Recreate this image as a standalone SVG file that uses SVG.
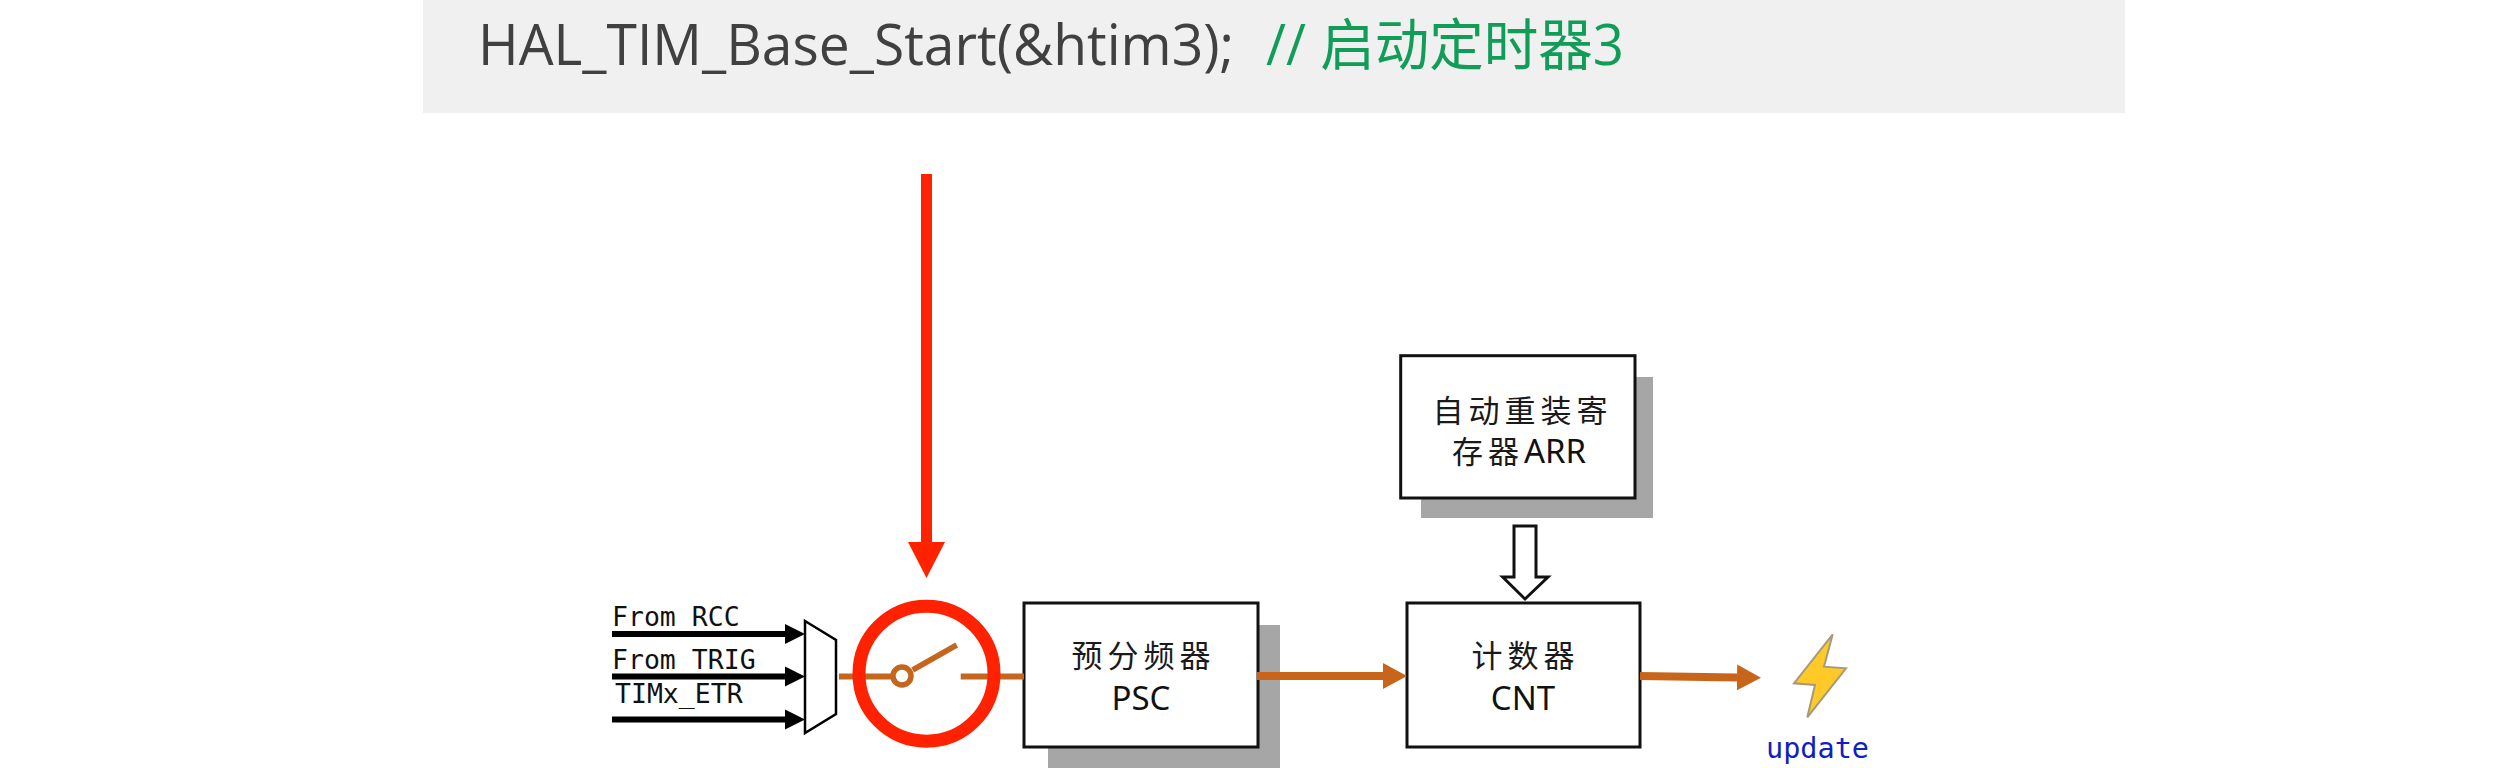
<svg xmlns="http://www.w3.org/2000/svg" width="2513" height="768" viewBox="0 0 2513 768">
<style>
.box{fill:#fff;stroke:#111;stroke-width:3}
.shadow{fill:#a6a6a6}
.cjk{font-family:"Noto Sans CJK SC","Noto Sans",sans-serif;font-size:31px;fill:#1a1a1a;text-anchor:middle;letter-spacing:5px}
.lat{font-family:"Noto Sans","Noto Sans CJK SC",sans-serif;font-size:33px;fill:#111;text-anchor:middle}
.mono{font-family:"DejaVu Sans Mono",monospace;font-size:26.5px;fill:#111}
.blk{fill:none;stroke:#000;stroke-width:6;marker-end:url(#hb)}
.org{fill:none;stroke:#c8651b;stroke-width:8;marker-end:url(#ho)}
.wire{fill:none;stroke:#c5661f;stroke-width:6}
</style>
<defs>
<marker id="hb" markerUnits="userSpaceOnUse" markerWidth="21" markerHeight="22" refX="0" refY="11" orient="auto"><path d="M0 1L20 11L0 21Z" fill="#000"/></marker>
<marker id="ho" markerUnits="userSpaceOnUse" markerWidth="25" markerHeight="28" refX="0" refY="14" orient="auto"><path d="M0 1L24 14L0 27Z" fill="#c8651b"/></marker>
</defs>
<rect x="423" y="0" width="1702" height="113" fill="#f0f0f0"/>
<g id="title">
<text x="478" y="64.500" font-family="'Open Sans','Noto Sans CJK SC',sans-serif" font-size="56" fill="#404040" textLength="756" lengthAdjust="spacingAndGlyphs">HAL_TIM_Base_Start(&amp;htim3);</text>
<text x="1266" y="64.500" font-family="'Open Sans','Noto Sans CJK SC',sans-serif" font-size="56" fill="#0f9d58" textLength="358" lengthAdjust="spacingAndGlyphs">// 启动定时器3</text>
</g>
<g id="psc">
<rect class="shadow" x="1048" y="625" width="232" height="143"/>
<rect class="box" x="1024" y="603" width="234" height="144"/>
<text class="cjk" x="1143.500" y="667">预分频器</text>
<text class="lat" x="1141" y="710">PSC</text>
</g>
<g id="cnt">
<rect class="box" x="1407" y="603" width="233" height="144"/>
<text class="cjk" x="1525.500" y="667">计数器</text>
<text class="lat" x="1523" y="710">CNT</text>
</g>
<g id="arr">
<rect class="shadow" x="1421" y="377" width="232" height="141"/>
<rect class="box" x="1400.700" y="355.700" width="234.300" height="142.300"/>
<text class="cjk" x="1522.500" y="421.700">自动重装寄</text>
<text class="lat" x="1519" y="462.700"><tspan style="font-family:'Noto Sans CJK SC',sans-serif;font-size:31px;letter-spacing:5px;fill:#1a1a1a">存器</tspan>ARR</text>
</g>
<g id="connectors">
<path class="blk" d="M612 634H785"/>
<path class="blk" d="M612 676.500H785"/>
<path class="blk" d="M612 719.500H785"/>
<path class="wire" d="M839 676.500H895"/>
<path class="wire" d="M960.700 676.500H1024"/>
<path class="org" d="M1257 676H1383"/>
<path class="org" d="M1640 676L1737 677.400"/>
<path d="M1514 526H1536V577H1548L1525 599L1502.700 577H1514Z" fill="#fff" stroke="#111" stroke-width="3"/>
<path d="M921 174H932V542H945L926.500 578L908 542H921Z" fill="#ff2200"/>
</g>
<g id="mux"><path d="M805 621L836 640V714L805 733Z" fill="#fff" stroke="#000" stroke-width="2.500"/></g>
<g id="inputs">
<text class="mono" x="612" y="626">From RCC</text>
<text class="mono" x="612" y="669">From TRIG</text>
<text class="mono" x="615" y="703">TIMx_ETR</text>
</g>
<g id="switch">
<circle cx="926.500" cy="673.700" r="67.500" fill="none" stroke="#ff2200" stroke-width="13"/>
<path d="M912.700 670L956.700 645" stroke="#c5661f" stroke-width="5.500" fill="none"/>
<circle cx="902" cy="676" r="9" fill="#fff" stroke="#c5661f" stroke-width="5.500"/>
</g>
<g id="update">
<path d="M1832.700 634.300L1824 666.700L1846 668.300L1807.300 717.300L1815 685L1794 683.300Z" fill="#ffca28" stroke="#a69a7a" stroke-width="2"/>
<text x="1766" y="758" font-family="'DejaVu Sans Mono',monospace" font-size="28.500" fill="#1020c0">update</text>
</g>
</svg>
